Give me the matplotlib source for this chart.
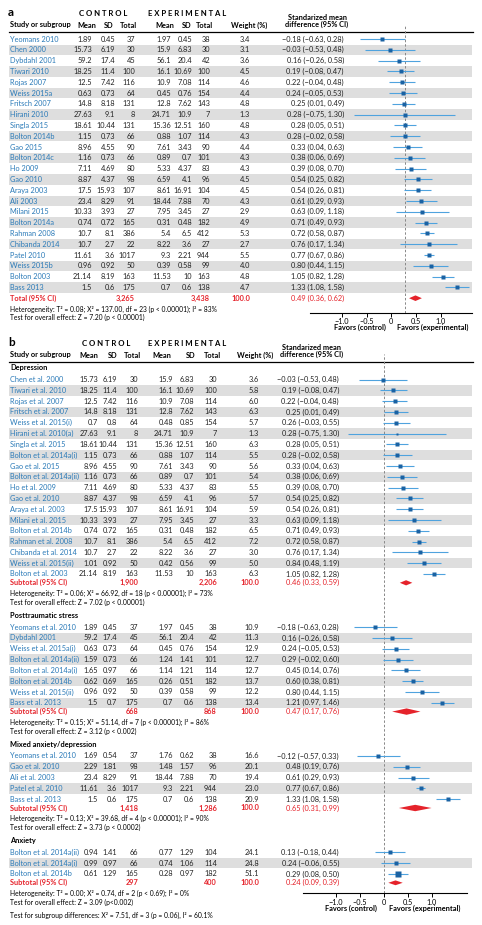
import numpy as np
import matplotlib.pyplot as plt
from matplotlib.patches import Rectangle

plt.rcParams['font.family'] = ['Liberation Sans Narrow', 'Lato', 'DejaVu Sans']

W, H = 482, 925
BLUE = '#2a7ab8'
CI_BLUE = '#4fa3de'
SQ_BLUE = '#1a62a3'
RED = '#e5232b'
STRIPE = '#dedede'
FS = 5.3
FS_NOTE = 4.85

# ---------------- panel a data ----------------
a_study = ['Yeomans 2010', 'Chen 2000', 'Dybdahl 2001', 'Tiwari 2010', 'Rojas 2007', 'Weiss 2015a',
           'Fritsch 2007', 'Hirani 2010', 'Singla 2015', 'Bolton 2014b', 'Gao 2015', 'Bolton 2014c',
           'Ho 2009', 'Gao 2010', 'Araya 2003', 'Ali 2003', 'Milani 2015', 'Bolton 2014a',
           'Rahman 2008', 'Chibanda 2014', 'Patel 2010', 'Weiss 2015b', 'Bolton 2003', 'Bass 2013']
a_c_mean = [1.89, 15.73, 59.2, 18.25, 12.5, 0.63, 14.8, 27.63, 18.61, 1.15, 8.96, 1.16,
            7.11, 8.87, 17.5, 23.4, 10.33, 0.74, 10.7, 10.7, 11.61, 0.96, 21.14, 1.5]
a_c_sd = [0.45, 6.19, 17.4, 11.4, 7.42, 0.73, 8.18, 9.1, 10.44, 0.73, 4.55, 0.73,
          4.69, 4.37, 15.93, 8.29, 3.93, 0.72, 8.1, 2.7, 3.6, 0.92, 8.19, 0.6]
a_c_n = [37, 30, 45, 100, 116, 64, 131, 8, 131, 66, 90, 66, 80, 98, 107, 91, 27, 165, 386, 22, 1017, 50, 163, 175]
a_e_mean = [1.97, 15.9, 56.1, 16.1, 10.9, 0.45, 12.8, 24.71, 15.36, 0.88, 7.61, 0.89,
            5.33, 6.59, 8.61, 18.44, 7.95, 0.31, 5.4, 8.22, 9.3, 0.39, 11.53, 0.7]
a_e_sd = [0.45, 6.83, 20.4, 10.69, 7.08, 0.76, 7.62, 10.9, 12.51, 1.07, 3.43, 0.7,
          4.37, 4.1, 16.91, 7.88, 3.45, 0.48, 6.5, 3.6, 2.21, 0.58, 10, 0.6]
a_e_n = [38, 30, 42, 100, 114, 154, 143, 7, 160, 114, 90, 101, 83, 96, 104, 70, 27, 182, 412, 27, 944, 99, 163, 138]
a_weight = [3.4, 3.1, 3.6, 4.5, 4.6, 4.4, 4.8, 1.3, 4.8, 4.3, 4.4, 4.3, 4.3, 4.5, 4.5, 4.3, 2.9, 4.9,
            5.3, 2.7, 5.5, 4.0, 4.8, 4.7]
a_smd = [-0.18, -0.03, 0.16, 0.19, 0.22, 0.24, 0.25, 0.28, 0.28, 0.28, 0.33, 0.38, 0.39, 0.54, 0.54,
         0.61, 0.63, 0.71, 0.72, 0.76, 0.77, 0.80, 1.05, 1.33]
a_lo = [-0.63, -0.53, -0.26, -0.08, -0.04, -0.05, 0.01, -0.75, 0.05, -0.02, 0.04, 0.06, 0.08, 0.25, 0.26,
        0.29, 0.09, 0.49, 0.58, 0.17, 0.67, 0.44, 0.82, 1.08]
a_hi = [0.28, 0.48, 0.58, 0.47, 0.48, 0.53, 0.49, 1.30, 0.51, 0.58, 0.63, 0.69, 0.70, 0.82, 0.81,
        0.93, 1.18, 0.93, 0.87, 1.34, 0.86, 1.15, 1.28, 1.58]
a_total = {'cn': 3265, 'en': 3438, 'smd': 0.49, 'lo': 0.36, 'hi': 0.62}
a_het = 'Heterogeneity: T² = 0.08; X² = 137.00, df = 23 (p < 0.00001); I² = 83%'
a_test = 'Test for overall effect: Z = 7.20 (p < 0.00001)'

# ---------------- panel b data ----------------
b_groups = ['Depression', 'Posttraumatic stress', 'Mixed anxiety/depression', 'Anxiety']
b_study = [
    ['Chen et al. 2000', 'Tiwari et al. 2010', 'Rojas et al. 2007', 'Fritsch et al. 2007', 'Weiss et al. 2015(i)',
     'Hirani et al. 2010(a)', 'Singla et al. 2015', 'Bolton et al. 2014a(i)', 'Gao et al. 2015',
     'Bolton et al. 2014a(ii)', 'Ho et al. 2009', 'Gao et al. 2010', 'Araya et al. 2003', 'Milani et al. 2015',
     'Bolton et al. 2014b', 'Rahman et al. 2008', 'Chibanda et al. 2014', 'Weiss et al. 2015(ii)',
     'Bolton et al. 2003'],
    ['Yeomans et al. 2010', 'Dybdahl 2001', 'Weiss et al. 2015a(i)', 'Bolton et al. 2014a(ii)',
     'Bolton et al. 2014a(i)', 'Bolton et al. 2014b', 'Weiss et al. 2015(ii)', 'Bass et al. 2013'],
    ['Yeomans et al. 2010', 'Gao et al. 2010', 'Ali et al. 2003', 'Patel et al. 2010', 'Bass et al. 2013'],
    ['Bolton et al. 2014a(ii)', 'Bolton et al. 2014a(i)', 'Bolton et al. 2014b'],
]
b_c_mean = [[15.73, 18.25, 12.5, 14.8, 0.7, 27.63, 18.61, 1.15, 8.96, 1.16, 7.11, 8.87, 17.5, 10.33, 0.74, 10.7, 10.7, 1.01, 21.14],
            [1.89, 59.2, 0.63, 1.59, 1.65, 0.62, 0.96, 1.5],
            [1.69, 2.29, 23.4, 11.61, 1.5],
            [0.94, 0.99, 0.61]]
b_c_sd = [[6.19, 11.4, 7.42, 8.18, 0.8, 9.1, 10.44, 0.73, 4.55, 0.73, 4.69, 4.37, 15.93, 3.93, 0.72, 8.1, 2.7, 0.92, 8.19],
          [0.45, 17.4, 0.73, 0.73, 0.97, 0.69, 0.92, 0.7],
          [0.54, 1.81, 8.29, 3.6, 0.6],
          [1.41, 0.97, 1.29]]
b_c_n = [[30, 100, 116, 131, 64, 8, 131, 66, 90, 66, 80, 98, 107, 27, 165, 386, 22, 50, 163],
         [37, 45, 64, 66, 66, 165, 50, 175],
         [37, 98, 91, 1017, 175],
         [66, 66, 165]]
b_e_mean = [[15.9, 16.1, 10.9, 12.8, 0.48, 24.71, 15.36, 0.88, 7.61, 0.89, 5.33, 6.59, 8.61, 7.95, 0.31, 5.4, 8.22, 0.42, 11.53],
            [1.97, 56.1, 0.45, 1.24, 1.14, 0.26, 0.39, 0.7],
            [1.76, 1.48, 18.44, 9.3, 0.7],
            [0.77, 0.74, 0.28]]
b_e_sd = [[6.83, 10.69, 7.08, 7.62, 0.85, 10.9, 12.51, 1.07, 3.43, 0.7, 4.37, 4.1, 16.91, 3.45, 0.48, 6.5, 3.6, 0.56, 10],
          [0.45, 20.4, 0.76, 1.41, 1.21, 0.51, 0.58, 0.6],
          [0.62, 1.57, 7.88, 2.21, 0.6],
          [1.29, 1.06, 0.97]]
b_e_n = [[30, 100, 114, 143, 154, 7, 160, 114, 90, 101, 83, 96, 104, 27, 182, 412, 27, 99, 163],
         [38, 42, 154, 101, 114, 182, 99, 138],
         [38, 96, 70, 944, 138],
         [104, 114, 182]]
b_weight = [[3.6, 5.8, 6.0, 6.3, 5.7, 1.3, 6.3, 5.5, 5.6, 5.4, 5.5, 5.7, 5.9, 3.3, 6.5, 7.2, 3.0, 5.0, 6.3],
            [10.9, 11.3, 12.9, 12.7, 12.7, 13.7, 12.2, 13.4],
            [16.6, 20.1, 19.4, 23.0, 20.9],
            [24.1, 24.8, 51.1]]
b_smd = [[-0.03, 0.19, 0.22, 0.25, 0.26, 0.28, 0.28, 0.28, 0.33, 0.38, 0.39, 0.54, 0.54, 0.63, 0.71, 0.72, 0.76, 0.84, 1.05],
         [-0.18, 0.16, 0.24, 0.29, 0.45, 0.60, 0.80, 1.21],
         [-0.12, 0.48, 0.61, 0.77, 1.33],
         [0.13, 0.24, 0.29]]
b_lo = [[-0.53, -0.08, -0.04, 0.01, -0.03, -0.75, 0.05, -0.02, 0.04, 0.06, 0.08, 0.25, 0.26, 0.09, 0.49, 0.58, 0.17, 0.48, 0.82],
        [-0.63, -0.26, -0.05, -0.02, 0.14, 0.38, 0.44, 0.97],
        [-0.57, 0.19, 0.29, 0.67, 1.08],
        [-0.18, -0.06, 0.08]]
b_hi = [[0.48, 0.47, 0.48, 0.49, 0.55, 1.30, 0.51, 0.58, 0.63, 0.69, 0.70, 0.82, 0.81, 1.18, 0.93, 0.87, 1.34, 1.19, 1.28],
        [0.28, 0.58, 0.53, 0.60, 0.76, 0.81, 1.15, 1.46],
        [0.33, 0.76, 0.93, 0.86, 1.58],
        [0.44, 0.55, 0.50]]
b_sub_cn = [1900, 668, 1418, 297]
b_sub_en = [2206, 868, 1286, 400]
b_sub_smd = [0.46, 0.47, 0.65, 0.24]
b_sub_lo = [0.33, 0.17, 0.31, 0.09]
b_sub_hi = [0.59, 0.76, 0.99, 0.39]
b_het = ['Heterogeneity: T² = 0.06; X² = 66.92, df = 18 (p < 0.00001); I² = 73%',
         'Heterogeneity: T² = 0.15; X² = 51.14, df = 7 (p < 0.00001); I² = 86%',
         'Heterogeneity: T² = 0.13; X² = 39.68, df = 4 (p < 0.00001); I² = 90%',
         'Heterogeneity: T² = 0.00; X² = 0.74, df = 2 (p < 0.69); I² = 0%']
b_test = ['Test for overall effect: Z = 7.02 (p < 0.00001)',
          'Test for overall effect: Z = 3.12 (p < 0.002)',
          'Test for overall effect: Z = 3.73 (p < 0.0002)',
          'Test for overall effect: Z = 3.09 (p<0.002)']
b_subgroup_test = 'Test for subgroup differences: X² = 7.51, df = 3 (p = 0.06), I² = 60.1%'

xticks = [-1.0, -0.5, 0, 0.5, 1.0]
xtick_labels = ['\u22121.0', '\u22120.5', '0', '0.5', '1.0']


def num(v):
    return f'{v:g}'


def ci_txt(e, lo, hi):
    return f'{e:.2f} ({lo:.2f}, {hi:.2f})'.replace('-', '\u2212')


def px_axes(fig, x0, y0, x1, y1):
    return fig.add_axes([x0 / W, 1 - y1 / H, (x1 - x0) / W, (y1 - y0) / H])


fig = plt.figure(figsize=(W / 100, H / 100), dpi=100)
ax = fig.add_axes([0, 0, 1, 1])
ax.set_xlim(0, W)
ax.set_ylim(H, 0)
ax.axis('off')


def note(y, s):
    ax.text(10, y, s, fontsize=FS_NOTE, va='center')


def header(y, cols, letter):
    ax.text(8, y - 12, letter, fontsize=8.5, fontweight='bold', va='center', family=['Lato', 'DejaVu Sans'])
    ax.text(cols['ctrl'], y - 11, 'C O N T R O L', fontsize=5.6, fontweight='bold', ha='center', va='center')
    ax.text(cols['exp'], y - 11, 'E X P E R I M E N T A L', fontsize=5.6, fontweight='bold', ha='center', va='center')
    ax.text(10, y, 'Study or subgroup', fontsize=FS, fontweight='bold', va='center')
    for key, lab in [('hcm', 'Mean'), ('hcs', 'SD'), ('hcn', 'Total'),
                     ('hem', 'Mean'), ('hes', 'SD'), ('hen', 'Total'), ('hw', 'Weight (%)')]:
        ax.text(cols[key], y, lab, fontsize=FS, fontweight='bold', ha='center', va='center')
    ax.text(cols['hci'], y - 4, 'Standarized mean\ndifference (95% CI)', fontsize=FS, fontweight='bold',
            ha='center', va='center', linespacing=1.1)
    ax.plot([9, 473], [y + 6.5, y + 6.5], color='black', lw=0.9)


def study_row(axf, y, i, name, cm, cs, cn, em, es, en, w, e, lo, hi, cols, ms):
    if i % 2 == 1:
        ax.add_patch(Rectangle((9, y - 5.2), 463, 10.4, color=STRIPE, lw=0, zorder=0))
    ax.text(10, y, name, color=BLUE, fontsize=FS, va='center')
    for key, val in [('cm', num(cm)), ('cs', num(cs)), ('cn', num(cn)), ('em', num(em)),
                     ('es', num(es)), ('en', num(en)), ('w', f'{w:.1f}'), ('ci', ci_txt(e, lo, hi))]:
        ax.text(cols[key], y, val, fontsize=FS, ha='right', va='center', color='#222222')
    axf.plot([lo, hi], [y, y], color=CI_BLUE, lw=0.8, solid_capstyle='butt', zorder=2)
    axf.plot([e], [y], marker='s', ms=ms, color=SQ_BLUE, mec='none', zorder=3)


def total_row(axf, y, label, cn, en, e, lo, hi, cols, dh):
    ax.text(10, y, label, color=RED, fontsize=FS, fontweight='bold', va='center')
    for key, val in [('cn', f'{cn:,}'), ('en', f'{en:,}'), ('w', '100.0')]:
        ax.text(cols[key], y, val, fontsize=FS, ha='right', va='center', color=RED, fontweight='bold')
    ax.text(cols['ci'], y, ci_txt(e, lo, hi), fontsize=FS, ha='right', va='center', color=RED)
    axf.fill([lo, e, hi, e], [y, y - dh, y, y + dh], color=RED, lw=0, zorder=3)


def forest_axes(y0, y1, zero_px, scale, line_x0, line_x1, ref):
    axf = px_axes(fig, 300, y0, 482, y1)
    axf.set_xlim((300 - zero_px) / scale, (482 - zero_px) / scale)
    axf.set_ylim(y1, y0)
    axf.patch.set_visible(False)
    for s in ['top', 'left', 'right']:
        axf.spines[s].set_visible(False)
    axf.spines['bottom'].set_bounds((line_x0 - zero_px) / scale, (line_x1 - zero_px) / scale)
    axf.spines['bottom'].set_linewidth(0.8)
    axf.set_yticks([])
    axf.set_xticks(xticks)
    axf.set_xticklabels(xtick_labels)
    axf.tick_params(axis='x', length=3, width=0.7, pad=0.8, labelsize=FS)
    axf.axvline(ref, color='#888888', lw=0.7, ls=(0, (2.5, 2)), zorder=1)
    return axf


# ---------------- panel a ----------------
cols_a = dict(ctrl=103, exp=187, hcm=87, hcs=109, hcn=128, hem=165, hes=187, hen=204, hw=249, hci=317,
              cm=92, cs=115, cn=135, em=171, es=192, en=210, w=250, ci=344)
header(25, cols_a, 'a')
axa = forest_axes(26, 312.7, 391.3, 49.3, 310, 472, 0.27)
ya0, step = 39.0, 10.8
for i in range(len(a_study)):
    study_row(axa, ya0 + i * step, i, a_study[i], a_c_mean[i], a_c_sd[i], a_c_n[i], a_e_mean[i], a_e_sd[i],
              a_e_n[i], a_weight[i], a_smd[i], a_lo[i], a_hi[i], cols_a, 3.0)
yt = ya0 + len(a_study) * step
total_row(axa, yt, 'Total (95% CI)', a_total['cn'], a_total['en'], a_total['smd'], a_total['lo'],
          a_total['hi'], cols_a, 2.8)
note(yt + 11.0, a_het)
note(yt + 19.6, a_test)
ax.text(360, 327.5, 'Favors (control)', fontsize=FS, fontweight='bold', ha='center', va='center')
ax.text(433, 327.5, 'Favors (experimental)', fontsize=FS, fontweight='bold', ha='center', va='center')

# ---------------- panel b ----------------
cols_b = dict(ctrl=106, exp=187, hcm=89, hcs=113, hcn=132, hem=162, hes=191, hen=212, hw=255, hci=312,
              cm=98, cs=117, cn=138, em=173, es=194, en=217, w=259, ci=339)
header(355, cols_b, 'b')
axb = forest_axes(354, 893.3, 384.0, 48.0, 303, 467, 0.0)
dia_h = [2.6, 3.2, 3.2, 2.4]
y = 367.7
for g in range(len(b_groups)):
    ax.text(10, y, b_groups[g], fontsize=FS, fontweight='bold', va='center')
    y += 11.9
    for i in range(len(b_study[g])):
        ms = 1.6 + 0.35 * np.sqrt(b_weight[g][i])
        study_row(axb, y, i, b_study[g][i], b_c_mean[g][i], b_c_sd[g][i], b_c_n[g][i], b_e_mean[g][i],
                  b_e_sd[g][i], b_e_n[g][i], b_weight[g][i], b_smd[g][i], b_lo[g][i], b_hi[g][i], cols_b, ms)
        y += step
    y += 8.8 - step
    total_row(axb, y, 'Subtotal (95% CI)', b_sub_cn[g], b_sub_en[g], b_sub_smd[g], b_sub_lo[g],
              b_sub_hi[g], cols_b, dia_h[g])
    y += 10.6
    note(y, b_het[g])
    y += 8.8
    note(y, b_test[g])
    y += 13.1
note(y + 0.5, b_subgroup_test)
ax.text(351, 908.5, 'Favors (control)', fontsize=FS, fontweight='bold', ha='center', va='center')
ax.text(425, 908.5, 'Favors (experimental)', fontsize=FS, fontweight='bold', ha='center', va='center')

fig.savefig('out.png', dpi=100)
